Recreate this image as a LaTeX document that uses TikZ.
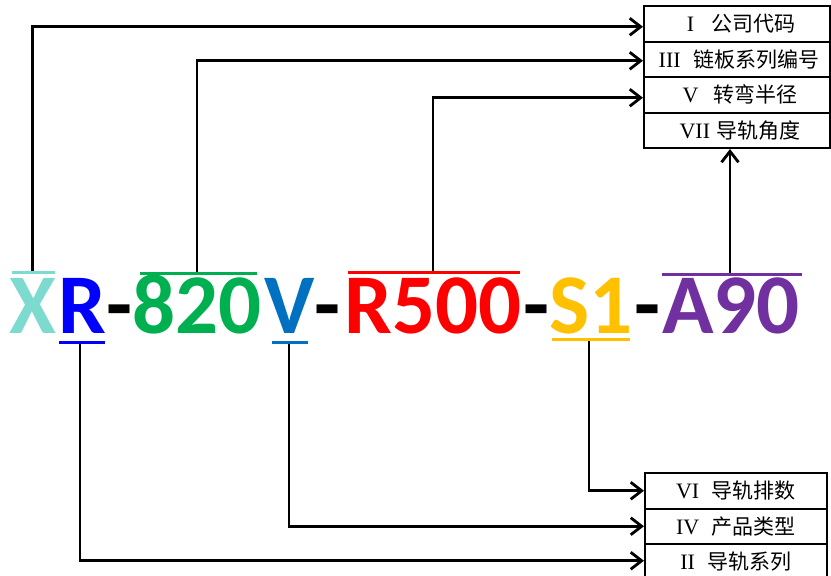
\documentclass[tikz,border=0pt]{standalone}
\usepackage{fontspec}
\setmainfont{Liberation Serif}
\newfontfamily\cjk{Noto Sans CJK SC}
\newfontfamily\calib{Carlito}
\usetikzlibrary{arrows.meta}
\definecolor{cX}{RGB}{124,218,207}
\definecolor{cR}{RGB}{0,0,255}
\definecolor{cG}{RGB}{0,176,80}
\definecolor{cV}{RGB}{0,112,192}
\definecolor{cRed}{RGB}{255,0,0}
\definecolor{cS}{RGB}{255,192,0}
\definecolor{cA}{RGB}{112,48,160}
\newcommand{\rn}[1]{{\fontsize{22}{22}\selectfont #1}}
\begin{document}
\begin{tikzpicture}[x=1pt,y=-1pt,
  codetok/.style={font=\calib\bfseries\fontsize{85}{85}\selectfont, inner sep=0pt, anchor=base},
  codebar/.style={line width=3pt},
  conn/.style={line width=2.8pt, -{Straight Barb[length=11pt,width=17pt]}},
  rowbox/.style={draw, line width=2pt, minimum height=35.5pt, inner sep=0pt,
    anchor=north west, font=\fontsize{21}{21}\selectfont}]
\useasboundingbox (0,0) rectangle (831,576);

% top boxes
\node[rowbox, minimum width=186pt] (t1) at (643,5) {\hspace{8pt}\rn{I}\hspace{0.8em}{\cjk 公司代码}};
\node[rowbox, minimum width=186pt] (t2) at (643,40.5) {\hspace{4pt}\rn{III}\hspace{0.6em}{\cjk 链板系列编号}};
\node[rowbox, minimum width=186pt] (t3) at (643,76) {\hspace{6pt}\rn{V}\hspace{0.7em}{\cjk 转弯半径}};
\node[rowbox, minimum width=186pt] (t4) at (643,111.5) {\hspace{6pt}\rn{VII}\hspace{0.3em}{\cjk 导轨角度}};

% bottom boxes
\node[rowbox, minimum width=182pt] (b1) at (644,472) {\rn{VI}\hspace{0.6em}{\cjk 导轨排数}};
\node[rowbox, minimum width=182pt] (b2) at (644,507.5) {\rn{IV}\hspace{0.6em}{\cjk 产品类型}};
\node[rowbox, minimum width=182pt] (b3) at (644,543) {\rn{II}\hspace{0.6em}{\cjk 导轨系列}};

% code tokens
\node[codetok, text=cX] (kX) at (32.5,333) {X};
\node[codetok, text=cR] (kR) at (82.5,333) {R};
\node[codetok] (d1) at (119.5,333) {-};
\node[codetok, text=cG] (k820) at (197,333) {820};
\node[codetok, text=cV] (kV) at (290,333) {V};
\node[codetok] (d2) at (328,333) {-};
\node[codetok, text=cRed] (kR500) at (433.5,333) {R500};
\node[codetok] (d3) at (537,333) {-};
\node[codetok, text=cS] (kS1) at (591,333) {S1};
\node[codetok] (d4) at (647.5,333) {-};
\node[codetok, text=cA] (kA90) at (731,333) {A90};

% connector ends on the bars
\coordinate (pX) at (32.5,272.5);
\coordinate (p820) at (197,273);
\coordinate (pR500) at (433,272);
\coordinate (pA90) at (730,274);
\coordinate (pR) at (80,342);
\coordinate (pV) at (289,342);
\coordinate (pS1) at (589,339);

% connectors
\draw[conn] (pX) |- ([yshift=-3pt]t1.west);
\draw[conn] (p820) |- ([yshift=-1.5pt]t2.west);
\draw[conn] (pR500) |- ([yshift=-3pt]t3.west);
\draw[conn] (pA90) -- (pA90 |- t4.south);
\draw[conn] (pS1) |- (b1.west);
\draw[conn] (pV) |- (b2.west);
\draw[conn] (pR) |- ([yshift=1pt]b3.west);

% coloured bars
\draw[codebar, cX] (12,272.5) -- (55,272.5);
\draw[codebar, cR] (59,342) -- (105,342);
\draw[codebar, cG] (140,273) -- (257,273);
\draw[codebar, cV] (272,342) -- (308,342);
\draw[codebar, cRed] (348,272) -- (520,272);
\draw[codebar, cS] (552,339) -- (630,339);
\draw[codebar, cA] (662,274) -- (802,274);
\end{tikzpicture}
\end{document}
